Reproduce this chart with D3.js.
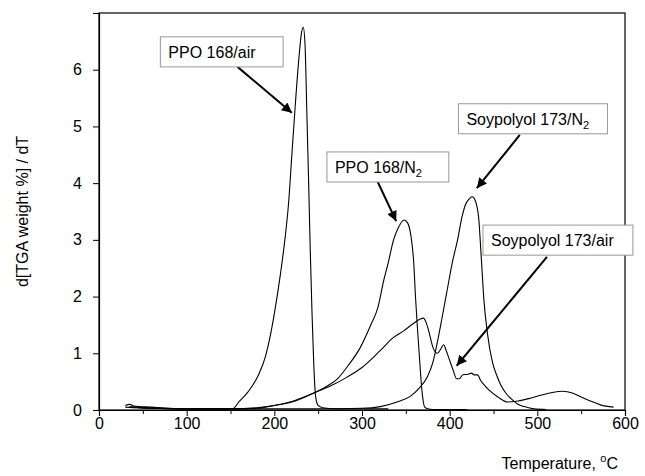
<!DOCTYPE html>
<html>
<head>
<meta charset="utf-8">
<script src="https://cdn.jsdelivr.net/npm/d3@7"></script>
<style>
  body { margin: 0; background: #fff; }
  svg { display: block; font-family: "Liberation Sans", Arial, sans-serif; }
</style>
</head>
<body>
<svg id="chart"></svg>
<script>
// DTG curves, [temperature °C, d[TGA weight %]/dT]
var ppoAir = [[30,0.08],[35,0.1],[40,0.07],[60,0.05],[80,0.03],[100,0.02],[130,0.02],[152,0.02],[160,0.15],[170,0.32],[182,0.62],[190,0.95],[195,1.28],[200,1.7],[207,2.4],[212,3.0],[216,3.6],[220,4.5],[224,5.4],[228,6.2],[231,6.65],[233,6.75],[235,6.45],[237,5.3],[239,4.1],[241,2.8],[243,1.7],[245,0.8],[247,0.25],[250,0.08],[255,0.04],[270,0.02],[300,0.02],[330,0.02]];
var ppoN2 = [[40,0.05],[100,0.02],[150,0.02],[180,0.04],[200,0.08],[220,0.14],[245,0.3],[260,0.42],[272,0.55],[285,0.8],[298,1.1],[310,1.5],[318,1.8],[325,2.3],[330,2.6],[336,3.0],[341,3.2],[348,3.35],[352,3.3],[356,3.05],[359,2.6],[361,2.0],[363,1.5],[365,1.05],[367,0.6],[369,0.25],[372,0.04],[380,0.01],[420,0.01]];
var soyAir = [[35,0.06],[60,0.03],[100,0.02],[150,0.02],[180,0.03],[200,0.08],[220,0.15],[245,0.3],[265,0.43],[283,0.58],[300,0.75],[321,1.05],[336,1.28],[348,1.4],[359,1.53],[366,1.6],[370,1.62],[373,1.55],[376,1.4],[381,1.1],[386,1.0],[390,1.08],[393,1.15],[396,1.05],[399,0.92],[404,0.7],[408,0.55],[411,0.55],[415,0.62],[421,0.63],[425,0.65],[428,0.62],[432,0.62],[435,0.53],[440,0.43],[445,0.35],[455,0.23],[466,0.14],[478,0.16],[490,0.2],[504,0.26],[517,0.31],[529,0.33],[540,0.3],[550,0.23],[562,0.15],[572,0.09],[587,0.05]];
var soyN2 = [[30,0.05],[60,0.03],[100,0.02],[200,0.02],[250,0.02],[300,0.03],[321,0.06],[340,0.14],[355,0.24],[365,0.38],[375,0.6],[381,0.85],[386,1.2],[391,1.6],[397,2.1],[403,2.6],[409,3.0],[414,3.4],[418,3.62],[422,3.72],[426,3.76],[429,3.7],[433,3.4],[436,2.7],[439,1.95],[443,1.36],[449,0.83],[454,0.6],[458,0.45],[464,0.3],[470,0.2],[478,0.1],[485,0.06],[496,0.02],[510,0.01]];

var xTicks = [0, 100, 200, 300, 400, 500, 600];
var xMinorTicks = [50, 150, 250, 350, 450, 550];
var yTicks = [0, 1, 2, 3, 4, 5, 6];

// annotation labels: text, subscript, box corners [T0, v0, T1, v1], arrow [T from, v from, T to, v to]
var annoText = ["PPO 168/air", "PPO 168/N", "Soypolyol 173/N", "Soypolyol 173/air"];
var annoSub = ["", "2", "2", ""];
var annoBox = [[70, 6.58, 210, 6.05], [260, 4.55, 399, 4.02], [410, 5.40, 580, 4.87], [438, 3.26, 609, 2.73]];
var annoArrow = [[158, 6.05, 220, 5.24], [318, 4.02, 339, 3.33], [480, 4.85, 431, 3.91], [511, 2.70, 408, 0.78]];

var W = 645, H = 476;
var svg = d3.select('#chart').attr('width', W).attr('height', H);

var x = d3.scaleLinear().domain([0, 600]).range([99, 625]);
var y = d3.scaleLinear().domain([0, 7]).range([410, 13]);

// frame
svg.append('rect')
  .attr('x', x(0)).attr('y', y(7))
  .attr('width', x(600) - x(0)).attr('height', y(0) - y(7))
  .attr('fill', 'none').attr('stroke', '#000').attr('stroke-width', 1.2);

// axes
svg.append('g').attr('transform', 'translate(0,' + y(0) + ')')
  .call(d3.axisBottom(x).tickValues(xTicks).tickSize(6).tickPadding(2).tickFormat(d3.format('d')));
svg.append('g').attr('transform', 'translate(0,' + y(0) + ')')
  .call(d3.axisBottom(x).tickValues(xMinorTicks).tickSize(4).tickFormat(''))
  .select('.domain').remove();
svg.append('g').attr('transform', 'translate(' + x(0) + ',0)')
  .call(d3.axisLeft(y).tickValues(yTicks).tickSize(6).tickPadding(11).tickFormat(d3.format('d')));
svg.selectAll('.domain').attr('stroke', '#000').attr('stroke-width', 1.2);
svg.selectAll('.tick line').attr('stroke', '#000');
svg.selectAll('.tick text').attr('font-size', 16).attr('fill', '#000')
  .attr('font-family', '"Liberation Sans", Arial, sans-serif');

// axis titles
svg.append('text')
  .attr('transform', 'translate(28,' + ((y(0) + y(7)) / 2) + ') rotate(-90)')
  .attr('text-anchor', 'middle').attr('font-size', 16)
  .text('d[TGA weight %] / dT');

var xt = svg.append('text')
  .attr('x', 618).attr('y', 469)
  .attr('text-anchor', 'end').attr('font-size', 16);
xt.append('tspan').text('Temperature, ');
xt.append('tspan').attr('font-size', 11).attr('dy', -7).text('o');
xt.append('tspan').attr('dy', 7).text('C');

// curves
var line = d3.line()
  .x(function(d) { return x(d[0]); })
  .y(function(d) { return y(d[1]); })
  .curve(d3.curveMonotoneX);

[ppoAir, ppoN2, soyAir, soyN2].forEach(function(s) {
  svg.append('path').datum(s)
    .attr('d', line)
    .attr('fill', 'none').attr('stroke', '#000').attr('stroke-width', 1.1);
});

// arrowhead
svg.append('defs').append('marker')
  .attr('id', 'arrow').attr('viewBox', '0 0 10 10')
  .attr('refX', 10).attr('refY', 5)
  .attr('markerWidth', 6).attr('markerHeight', 5)
  .attr('markerUnits', 'strokeWidth')
  .attr('orient', 'auto')
  .append('path').attr('d', 'M0,0 L10,5 L0,10 Z').attr('fill', '#000');

// annotation boxes
annoText.forEach(function(t, i) {
  var b = annoBox[i], a = annoArrow[i];
  svg.append('line')
    .attr('x1', x(a[0])).attr('y1', y(a[1]))
    .attr('x2', x(a[2])).attr('y2', y(a[3]))
    .attr('stroke', '#000').attr('stroke-width', 2)
    .attr('marker-end', 'url(#arrow)');
  svg.append('rect')
    .attr('x', x(b[0])).attr('y', y(b[1]))
    .attr('width', x(b[2]) - x(b[0])).attr('height', y(b[3]) - y(b[1]))
    .attr('fill', '#fff').attr('stroke', '#999').attr('stroke-width', 1);
  var txt = svg.append('text')
    .attr('x', x(b[0]) + 8).attr('y', y(b[3]) - 9)
    .attr('font-size', 16);
  txt.append('tspan').text(t);
  if (annoSub[i]) {
    txt.append('tspan').attr('font-size', 11).attr('dy', 4).text(annoSub[i]);
  }
});
</script>
</body>
</html>
